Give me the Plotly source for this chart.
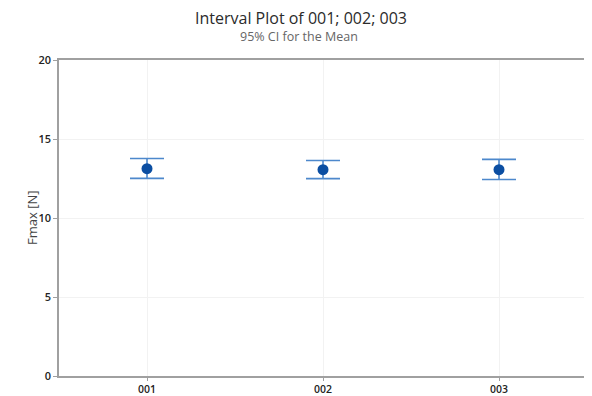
import plotly.graph_objects as go

categories = ["001", "002", "003"]
means = [13.12, 13.06, 13.06]
ci_upper = [13.77, 13.64, 13.71]
ci_lower = [12.51, 12.49, 12.44]
y_ticks = [0, 5, 10, 15, 20]

err_plus = [u - m for u, m in zip(ci_upper, means)]
err_minus = [m - l for m, l in zip(means, ci_lower)]

fig = go.Figure()
fig.add_trace(go.Scatter(
    x=categories, y=means, mode="markers",
    marker=dict(color="#0b4ea2", size=11),
    error_y=dict(type="data", array=err_plus, arrayminus=err_minus,
                 color="#4d88cc", thickness=1.6, width=17),
    showlegend=False,
))

# page body has an 8px default margin; size the figure to fit the window
fig.update_layout(
    width=584, height=388,
    margin=dict(l=51, r=5, t=52, b=20),
    paper_bgcolor="white", plot_bgcolor="white",
    font=dict(family="Open Sans, Noto Sans, sans-serif", color="#333333"),
)
fig.add_annotation(text="Interval Plot of 001; 002; 003", xref="paper", yref="paper",
                   x=0.5, y=1, xshift=-22, yshift=42, xanchor="center", yanchor="middle",
                   showarrow=False, font=dict(size=16, color="#2b2b2b"))
fig.add_annotation(text="95% CI for the Mean", xref="paper", yref="paper",
                   x=0.5, y=1, xshift=-24, yshift=24, xanchor="center", yanchor="middle",
                   showarrow=False, font=dict(size=12.5, color="#666666"))
fig.add_annotation(text="Fmax [N]", xref="paper", yref="paper",
                   x=0, y=0.5, xshift=-27, xanchor="center", yanchor="middle",
                   textangle=-90, showarrow=False,
                   font=dict(size=13, color="#444444"))

fig.update_xaxes(
    type="category", range=[-0.5, 2.5], automargin=False,
    showline=True, linecolor="#a0a0a0", linewidth=1.5, mirror=True,
    ticks="outside", ticklen=3, tickcolor="#a0a0a0",
    showgrid=True, gridcolor="#f2f2f2",
    tickfont=dict(size=10.5, color="#222222", family="Open Sans SemiBold, Open Sans, sans-serif"),
)
fig.update_yaxes(
    range=[0, 20], tickvals=y_ticks, automargin=False,
    showline=True, linecolor="#a0a0a0", linewidth=1.5, mirror=True,
    ticks="outside", ticklen=4, tickcolor="#a0a0a0",
    showgrid=True, gridcolor="#f2f2f2", zeroline=False,
    tickfont=dict(size=11, color="#222222", family="Open Sans SemiBold, Open Sans, sans-serif"),
)

fig.write_html("out.html")
